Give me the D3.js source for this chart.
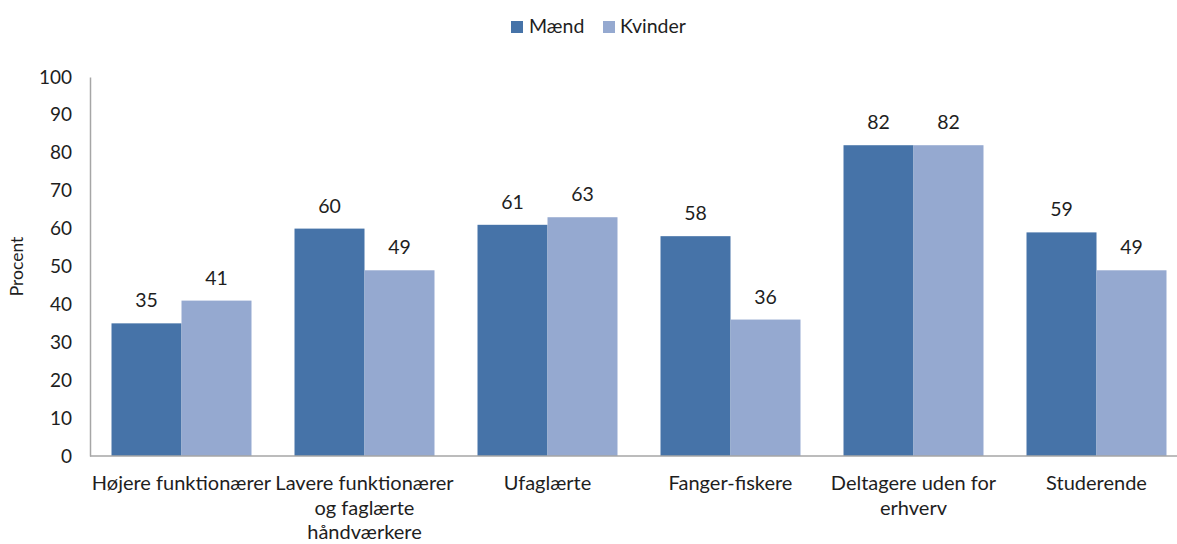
<!DOCTYPE html>
<html><head><meta charset="utf-8">
<script src="https://cdn.jsdelivr.net/npm/d3@7"></script>
<style>body{margin:0;background:#fff}svg{display:block}text{font-family:Lato,"Open Sans",sans-serif;fill:#1e1e1e}</style>
</head><body>
<svg id="c" width="1177" height="544"></svg>
<script>
const categories = [
  ["Højere funktionærer"],
  ["Lavere funktionærer","og faglærte","håndværkere"],
  ["Ufaglærte"],
  ["Fanger-fiskere"],
  ["Deltagere uden for","erhverv"],
  ["Studerende"]
];
const seriesNames = ["Mænd","Kvinder"];
const maend = [35,60,61,58,82,59];
const kvinder = [41,49,63,36,82,49];
const yTicks = [0,10,20,30,40,50,60,70,80,90,100];
const colors = ["#4673A8","#95A9D0"];

(function(){
const svg = d3.select("#c");
const mLeft = 90, mRight = 1188, mTop = 77, mBottom = 456;
const x = d3.scaleBand().domain(d3.range(categories.length)).range([mLeft,mRight]).paddingInner(0.235).paddingOuter(0.1175);
const xs = d3.scaleBand().domain([0,1]).range([0,x.bandwidth()]);
const y = d3.scaleLinear().domain([0,100]).range([mBottom,mTop]);

const data = categories.map((c,i)=>({i,vals:[maend[i],kvinder[i]]}));

const g = svg.append("g");
data.forEach(d=>{
  d.vals.forEach((v,s)=>{
    g.append("rect").attr("x",x(d.i)+xs(s)).attr("width",xs.bandwidth())
      .attr("y",y(v)).attr("height",y(0)-y(v)).attr("fill",colors[s]);
    g.append("text").attr("x",x(d.i)+xs(s)+xs.bandwidth()/2).attr("y",y(v)-16)
      .attr("text-anchor","middle").attr("font-size",19.5).text(v);
  });
});

const ya = svg.append("g").attr("transform",`translate(${mLeft},0)`)
  .call(d3.axisLeft(y).tickValues(yTicks).tickSize(0).tickPadding(18));
ya.select(".domain").attr("stroke","#a6a6a6").attr("stroke-width",1.5);
ya.selectAll("text").attr("font-size",19).attr("fill","#1e1e1e").style("font-family","Lato");

svg.append("line").attr("x1",mLeft).attr("x2",1177).attr("y1",mBottom).attr("y2",mBottom)
  .attr("stroke","#a6a6a6").attr("stroke-width",1.5);

categories.forEach((lines,i)=>{
  const t = svg.append("text").attr("text-anchor","middle").attr("font-size",20);
  lines.forEach((l,j)=>{
    t.append("tspan").attr("x",x(i)+x.bandwidth()/2).attr("y",490+j*24.5).text(l);
  });
});

svg.append("text").attr("transform",`translate(23,${(mTop+mBottom)/2}) rotate(-90)`)
  .attr("text-anchor","middle").attr("font-size",17.5).text("Procent");

const leg = [[511,529],[603,620]];
seriesNames.forEach((n,s)=>{
  svg.append("rect").attr("x",leg[s][0]).attr("y",21).attr("width",12).attr("height",12).attr("fill",colors[s]);
  svg.append("text").attr("x",leg[s][1]).attr("y",33).attr("font-size",19.5).text(n);
});
})();
</script>
</body></html>
